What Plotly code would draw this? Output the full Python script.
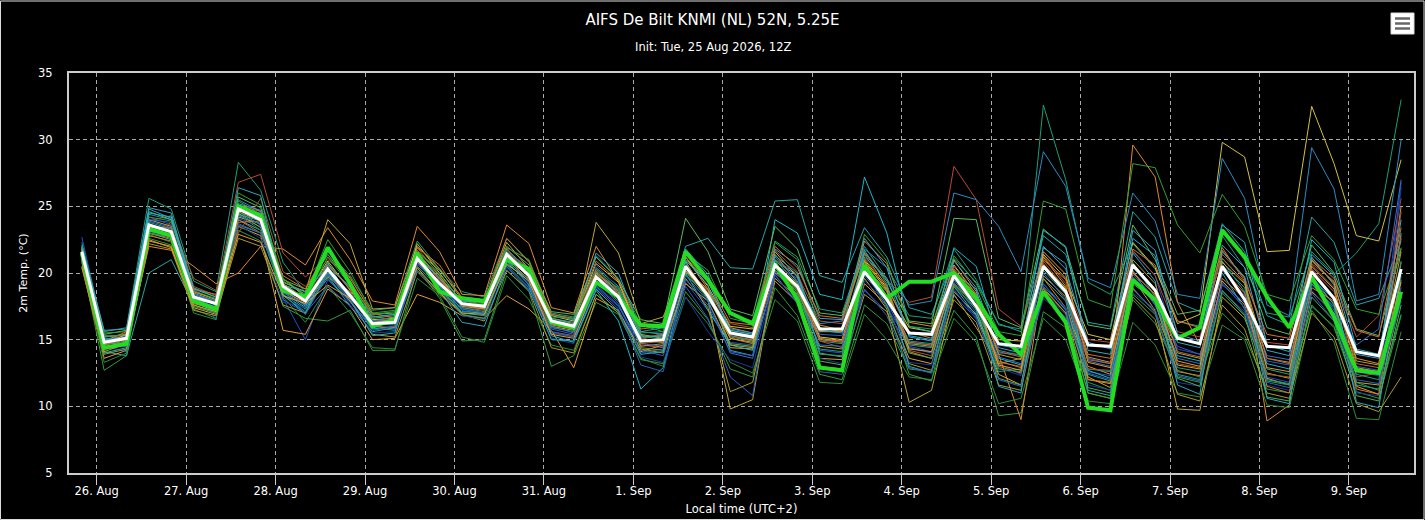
import pandas as pd
import plotly.graph_objects as go

# ---------------------------------------------------------------
# Data (2m temperature, degC), 6-hourly from 25 Aug 20:00 local
# ---------------------------------------------------------------
times = pd.date_range("2026-08-25 20:00", periods=60, freq="6h")

tick_dates = pd.date_range("2026-08-26", periods=15, freq="D")
tick_labels = ["26. Aug", "27. Aug", "28. Aug", "29. Aug", "30. Aug", "31. Aug", "1. Sep",
               "2. Sep", "3. Sep", "4. Sep", "5. Sep", "6. Sep", "7. Sep", "8. Sep", "9. Sep"]

ens_mean = [21.6,
            14.8, 15.1, 23.6, 23.1, 18.2, 17.7, 24.8, 24.0, 19.0, 17.9, 20.3, 18.3,
            16.2, 16.3, 21.1, 19.2, 17.7, 17.5, 21.4, 19.8, 16.4, 16.0, 19.7, 18.2,
            14.9, 15.0, 20.5, 18.3, 15.5, 15.2, 20.6, 19.0, 15.8, 15.8, 20.1, 18.0,
            15.5, 15.4, 19.8, 17.5, 14.7, 14.5, 20.5, 18.6, 14.6, 14.5, 20.6, 18.7,
            15.1, 14.7, 20.5, 18.0, 14.5, 14.4, 20.1, 18.1, 14.1, 13.8, 20.3]

control = [21.5,
           14.4, 14.7, 23.3, 22.8, 17.9, 17.3, 25.0, 24.3, 18.7, 18.2, 21.9, 19.2,
           16.0, 16.5, 21.5, 18.6, 18.1, 17.9, 21.0, 20.3, 16.3, 15.9, 19.3, 18.2,
           16.1, 16.0, 21.6, 19.5, 17.0, 16.2, 20.7, 18.0, 12.9, 12.7, 20.6, 18.1,
           19.35, 19.35, 20.0, 18.1, 15.4, 13.9, 18.6, 16.3, 9.9, 9.7, 19.5, 18.0,
           15.1, 15.9, 23.2, 21.2, 18.2, 15.9, 19.7, 16.7, 12.7, 12.5, 18.6]

m01 = [22.7,
       15.3, 15.0, 24.2, 23.6, 18.0, 17.2, 24.1, 23.5, 18.1, 15.0, 19.5, 17.8,
       16.0, 15.8, 20.6, 19.4, 17.2, 16.9, 20.8, 19.2, 15.5, 15.2, 19.1, 17.6,
       14.0, 14.3, 19.3, 17.2, 14.8, 14.6, 19.4, 17.8, 14.2, 14.0, 18.7, 17.1,
       14.5, 14.1, 18.3, 16.6, 13.2, 12.4, 18.1, 16.7, 12.6, 12.3, 21.6, 19.8,
       14.3, 13.9, 18.6, 17.1, 12.2, 11.8, 19.1, 17.5, 12.6, 12.3, 26.8]
m02 = [20.9,
       12.7, 13.8, 22.6, 22.1, 17.3, 16.6, 23.2, 22.4, 17.5, 16.6, 16.4, 17.2,
       14.2, 14.2, 20.4, 18.1, 14.9, 15.0, 20.2, 18.6, 13.0, 13.8, 17.8, 16.9,
       13.5, 13.2, 18.6, 16.5, 12.8, 12.2, 18.9, 16.8, 12.4, 12.0, 17.6, 16.2,
       12.8, 12.6, 17.2, 15.2, 9.3, 9.5, 17.1, 15.9, 11.8, 11.2, 18.0, 16.2,
       12.7, 12.2, 17.0, 15.3, 11.3, 11.0, 17.6, 15.9, 11.1, 10.6, 16.8]
m03 = [21.9,
       14.1, 13.8, 20.0, 21.0, 17.6, 17.0, 23.6, 23.0, 18.4, 17.3, 19.8, 17.5,
       15.6, 15.9, 20.8, 19.0, 17.0, 16.8, 20.9, 19.5, 16.9, 16.5, 20.4, 19.0,
       15.6, 15.9, 22.0, 22.6, 20.4, 20.3, 25.4, 25.5, 19.8, 19.3, 23.4, 21.2,
       17.4, 16.9, 21.1, 19.3, 16.2, 15.6, 22.8, 21.4, 16.3, 16.0, 24.6, 22.7,
       17.8, 17.1, 23.7, 21.6, 16.8, 16.1, 24.2, 22.3, 17.6, 18.1, 22.4]
m04 = [22.3,
       15.6, 15.9, 25.6, 24.8, 19.4, 18.6, 28.3, 26.2, 20.8, 18.5, 21.6, 19.8,
       17.2, 17.4, 22.4, 20.3, 18.6, 18.2, 22.6, 20.9, 17.0, 16.7, 21.3, 19.6,
       16.1, 15.6, 21.7, 19.5, 16.9, 16.4, 22.4, 21.2, 17.3, 17.0, 22.0, 19.6,
       16.8, 16.6, 21.8, 19.5, 16.1, 15.8, 32.6, 27.0, 19.3, 18.4, 22.2, 20.3,
       16.4, 16.0, 22.8, 20.4, 17.0, 16.7, 21.6, 19.9, 21.5, 23.7, 33.0]
m05 = [21.2,
       14.3, 14.6, 22.0, 21.7, 20.5, 19.2, 20.0, 22.0, 21.8, 20.6, 23.4, 21.0,
       17.9, 17.6, 23.5, 21.6, 18.4, 18.3, 23.6, 22.2, 17.4, 17.0, 22.0, 19.4,
       15.4, 15.1, 21.2, 18.8, 15.9, 15.5, 21.4, 19.3, 16.1, 15.7, 22.4, 20.7,
       16.3, 16.0, 21.0, 18.6, 13.9, 9.0, 19.6, 17.4, 13.0, 12.4, 29.6, 27.2,
       17.8, 14.6, 21.7, 19.6, 8.9, 10.1, 21.0, 19.2, 13.6, 13.2, 25.0]
m06 = [21.4,
       14.9, 15.5, 23.9, 24.3, 19.0, 18.3, 26.8, 27.4, 21.5, 19.7, 21.2, 19.4,
       16.7, 16.9, 21.9, 19.8, 17.4, 17.2, 21.6, 20.4, 16.6, 16.2, 20.3, 18.7,
       14.6, 14.4, 20.8, 18.4, 15.7, 15.4, 21.0, 19.9, 16.4, 16.2, 21.6, 19.5,
       17.8, 18.2, 28.0, 25.5, 17.3, 16.0, 21.3, 19.2, 15.0, 14.8, 21.7, 19.8,
       15.6, 15.2, 21.4, 19.7, 14.8, 14.6, 20.7, 19.4, 15.2, 16.8, 25.6]
m07 = [20.5,
       13.6, 14.2, 22.4, 22.0, 17.4, 16.9, 23.5, 22.8, 15.7, 15.4, 18.8, 17.6,
       15.0, 15.1, 18.4, 17.8, 16.8, 16.6, 18.3, 17.3, 15.7, 12.9, 18.1, 17.2,
       14.1, 14.6, 19.2, 17.9, 14.4, 14.3, 19.6, 18.2, 13.6, 13.5, 19.2, 17.6,
       13.6, 13.2, 18.6, 16.9, 12.4, 11.6, 19.8, 18.2, 12.2, 11.4, 18.8, 17.1,
       13.1, 12.8, 19.4, 17.6, 12.1, 11.6, 18.6, 17.0, 11.5, 10.9, 18.2]
m08 = [21.7,
       15.2, 15.4, 24.0, 23.5, 18.5, 17.9, 24.5, 23.4, 19.3, 18.6, 24.0, 22.2,
       17.3, 17.4, 22.0, 20.3, 18.0, 17.8, 22.3, 20.3, 16.0, 15.7, 23.8, 21.5,
       16.2, 16.7, 20.9, 18.0, 9.8, 10.5, 20.2, 18.4, 14.5, 14.3, 19.6, 17.3,
       10.3, 11.2, 18.4, 15.9, 13.2, 13.6, 21.2, 19.0, 12.0, 11.7, 19.6, 17.2,
       9.8, 9.7, 18.2, 16.6, 12.5, 12.1, 19.4, 17.7, 11.8, 11.6, 19.5]
m09 = [21.3,
       14.6, 15.2, 23.2, 22.9, 18.3, 17.6, 24.2, 23.7, 19.6, 18.2, 20.9, 18.7,
       16.5, 16.6, 22.2, 20.0, 17.8, 17.4, 21.8, 20.1, 16.8, 16.4, 20.7, 19.3,
       15.2, 15.3, 21.2, 19.0, 16.0, 15.8, 21.6, 19.7, 15.2, 15.0, 21.0, 18.9,
       15.9, 15.6, 20.6, 18.4, 15.0, 14.9, 21.4, 19.6, 15.4, 15.0, 22.3, 20.4,
       16.2, 16.9, 29.8, 28.7, 21.6, 21.7, 32.5, 28.2, 22.8, 22.4, 28.5]
m10 = [21.8,
       15.0, 15.3, 24.4, 24.0, 18.7, 18.0, 25.5, 24.6, 19.2, 18.0, 20.6, 18.9,
       16.4, 16.7, 21.3, 19.5, 17.6, 17.6, 21.2, 19.9, 16.2, 15.9, 19.9, 18.4,
       15.1, 15.4, 20.3, 18.5, 15.8, 15.5, 21.2, 19.4, 16.2, 16.4, 21.8, 20.4,
       17.6, 17.9, 26.0, 25.5, 23.5, 20.1, 29.1, 26.5, 19.6, 18.9, 26.0, 23.9,
       18.4, 18.1, 28.6, 25.6, 17.6, 16.8, 29.4, 26.3, 17.9, 18.4, 30.0]
m11 = [21.0,
       14.0, 14.4, 23.0, 22.5, 17.8, 17.1, 24.0, 23.2, 18.6, 17.4, 19.6, 17.9,
       15.8, 16.0, 20.9, 18.8, 17.1, 17.0, 20.9, 19.1, 15.3, 14.8, 18.7, 16.4,
       11.3, 12.9, 20.0, 17.2, 14.6, 14.2, 24.0, 23.0, 18.4, 18.0, 27.2, 23.0,
       16.0, 15.6, 19.0, 16.8, 13.6, 13.1, 19.2, 17.2, 12.7, 12.1, 20.2, 17.6,
       13.8, 13.4, 20.0, 17.3, 13.2, 12.8, 19.8, 17.6, 12.8, 12.5, 23.0]
m12 = [21.6,
       14.5, 14.1, 24.0, 23.8, 18.9, 16.5, 24.8, 24.5, 18.0, 17.0, 19.0, 17.5,
       16.1, 16.2, 20.7, 19.0, 17.5, 17.3, 21.5, 19.0, 15.8, 15.4, 19.5, 17.7,
       14.2, 13.8, 19.0, 16.6, 12.2, 10.8, 20.6, 19.6, 15.4, 15.3, 20.2, 17.4,
       14.8, 14.6, 19.3, 17.0, 14.0, 13.9, 19.0, 17.3, 13.6, 13.2, 19.7, 17.6,
       14.5, 13.9, 19.1, 17.8, 13.4, 13.1, 19.5, 17.2, 13.0, 12.7, 18.9]
m13 = [21.2,
       13.3, 14.0, 22.9, 22.3, 17.0, 16.5, 24.4, 23.2, 18.2, 16.3, 19.0, 17.0,
       14.4, 14.3, 19.6, 18.3, 15.2, 14.8, 19.8, 18.0, 14.6, 14.2, 18.4, 17.0,
       13.6, 13.0, 18.2, 16.2, 13.3, 12.5, 18.0, 16.4, 11.8, 11.7, 16.9, 15.0,
       12.2, 12.0, 16.6, 14.8, 10.2, 10.6, 16.6, 15.0, 10.4, 10.2, 16.3, 14.6,
       11.0, 10.7, 16.1, 15.0, 10.1, 9.9, 17.2, 14.8, 9.1, 9.0, 15.6]
m14 = [21.9,
       15.4, 15.7, 24.6, 24.0, 18.8, 18.2, 25.7, 24.9, 19.5, 18.8, 21.4, 19.2,
       16.9, 17.0, 21.6, 20.2, 18.2, 18.0, 22.0, 20.6, 17.1, 16.9, 21.2, 19.5,
       16.5, 16.2, 24.1, 21.6, 17.3, 16.8, 23.5, 21.8, 17.0, 16.8, 21.5, 19.4,
       16.4, 16.2, 24.1, 24.0, 16.6, 15.9, 23.3, 21.9, 16.1, 15.8, 23.6, 21.0,
       16.9, 17.2, 23.3, 21.0, 15.9, 15.4, 22.1, 20.0, 15.8, 15.3, 21.8]
m15 = [20.4,
       13.9, 14.3, 22.2, 21.8, 17.2, 16.8, 22.6, 22.0, 17.6, 17.0, 19.9, 17.9,
       15.4, 15.2, 20.1, 18.4, 16.9, 16.4, 20.2, 18.7, 14.4, 14.0, 18.4, 17.0,
       14.3, 14.0, 19.6, 17.4, 11.1, 11.8, 19.4, 17.8, 13.0, 12.8, 18.4, 17.1,
       13.2, 12.7, 18.0, 16.3, 11.6, 11.2, 18.9, 17.0, 11.0, 10.6, 18.2, 16.5,
       10.9, 10.4, 17.6, 15.8, 11.0, 10.6, 17.0, 15.2, 10.2, 9.6, 12.2]
m16 = [21.5,
       15.1, 15.0, 23.8, 23.3, 17.9, 17.5, 25.0, 24.2, 18.8, 17.6, 20.1, 18.2,
       15.9, 15.7, 20.9, 19.0, 17.3, 17.0, 21.0, 19.3, 15.9, 15.6, 19.3, 17.9,
       14.8, 14.9, 20.8, 18.1, 15.2, 14.9, 20.5, 18.7, 14.9, 14.7, 20.4, 18.3,
       14.6, 14.4, 19.5, 17.2, 12.6, 12.8, 20.4, 18.5, 12.8, 12.6, 20.8, 18.2,
       12.4, 12.0, 20.9, 18.6, 12.0, 11.7, 20.2, 18.0, 11.6, 11.3, 19.8]
m17 = [21.1,
       14.2, 14.9, 22.7, 23.8, 19.6, 18.7, 23.0, 25.6, 20.1, 19.0, 21.0, 19.7,
       16.8, 16.4, 21.7, 19.4, 17.9, 17.6, 21.9, 19.6, 15.6, 15.3, 20.0, 18.0,
       15.0, 15.5, 20.4, 18.6, 16.2, 15.9, 21.7, 20.1, 14.9, 14.4, 21.1, 19.1,
       14.2, 13.8, 20.2, 18.0, 13.3, 13.0, 20.9, 18.8, 12.8, 12.7, 20.7, 18.8,
       13.2, 12.9, 20.3, 18.5, 12.4, 12.2, 20.6, 18.9, 12.2, 12.5, 24.6]
m18 = [21.7,
       14.7, 15.1, 23.4, 22.9, 18.1, 17.5, 23.6, 22.6, 17.8, 17.4, 20.4, 17.6,
       15.5, 15.6, 20.5, 18.8, 16.8, 16.5, 20.4, 18.8, 15.1, 14.7, 20.6, 18.9,
       13.7, 13.3, 18.2, 15.6, 13.5, 12.9, 19.8, 17.8, 13.6, 13.2, 19.4, 17.8,
       13.3, 13.1, 18.8, 16.5, 12.9, 12.3, 19.2, 17.4, 11.6, 11.2, 18.5, 17.3,
       11.8, 11.5, 19.3, 17.4, 11.6, 11.2, 18.7, 16.8, 11.0, 10.8, 26.4]
m19 = [21.8,
       15.5, 15.6, 24.2, 23.9, 18.6, 18.1, 26.0, 25.1, 19.6, 18.3, 22.5, 20.1,
       17.0, 17.2, 21.7, 19.9, 17.9, 17.7, 21.9, 21.0, 16.5, 16.0, 19.9, 18.9,
       15.3, 15.0, 21.5, 20.2, 16.6, 16.2, 22.3, 21.0, 15.9, 15.6, 22.9, 20.9,
       16.0, 15.8, 21.3, 19.2, 15.6, 15.3, 25.4, 24.8, 18.0, 17.4, 28.2, 27.9,
       23.6, 21.5, 25.9, 23.5, 18.4, 17.9, 22.8, 21.0, 17.3, 16.9, 21.9]
m20 = [22.0,
       15.7, 15.8, 24.9, 24.5, 18.4, 17.8, 25.2, 24.7, 18.9, 17.5, 20.0, 18.1,
       16.3, 16.4, 21.5, 19.6, 17.7, 17.4, 21.3, 19.8, 16.6, 16.3, 21.5, 20.0,
       15.6, 15.4, 21.8, 19.9, 15.4, 15.1, 21.8, 20.6, 16.6, 16.5, 22.6, 20.4,
       15.2, 14.9, 20.9, 18.9, 14.4, 14.0, 22.0, 20.3, 14.8, 14.3, 23.2, 21.7,
       15.4, 14.9, 22.1, 20.4, 14.2, 13.8, 21.4, 19.8, 13.9, 13.6, 24.0]
m21 = [21.3,
       14.4, 14.8, 22.8, 22.4, 17.7, 17.3, 23.8, 23.9, 18.6, 17.8, 19.7, 18.6,
       16.0, 15.9, 21.3, 19.6, 17.6, 17.3, 21.1, 19.5, 16.1, 15.8, 20.1, 18.6,
       14.5, 14.7, 20.1, 18.8, 15.1, 14.7, 20.0, 18.6, 15.0, 14.8, 20.6, 18.6,
       14.1, 13.6, 19.2, 17.6, 13.4, 12.9, 18.8, 17.0, 12.0, 11.8, 19.4, 17.8,
       12.6, 12.3, 19.6, 18.1, 11.5, 11.0, 18.9, 17.9, 11.3, 10.9, 20.8]
m22 = [21.9,
       15.2, 15.4, 23.6, 23.3, 18.1, 17.4, 24.6, 23.6, 18.3, 17.1, 20.0, 18.4,
       16.2, 16.1, 20.2, 18.6, 17.4, 17.1, 20.6, 19.6, 16.3, 15.9, 19.6, 18.1,
       14.9, 14.8, 20.1, 18.0, 15.6, 15.3, 20.2, 18.9, 14.3, 14.1, 19.9, 18.2,
       14.9, 14.7, 19.9, 17.8, 14.2, 13.8, 20.2, 18.4, 12.4, 11.9, 20.4, 18.6,
       12.9, 12.6, 20.6, 18.9, 12.8, 12.4, 19.2, 17.4, 12.4, 12.0, 20.9]
m23 = [21.4,
       14.6, 14.9, 23.5, 23.0, 18.0, 17.7, 24.9, 24.4, 19.4, 18.4, 20.7, 18.9,
       16.6, 16.8, 21.0, 19.3, 17.7, 17.6, 21.6, 20.0, 16.6, 16.2, 19.6, 18.3,
       14.4, 14.2, 20.6, 18.4, 14.7, 14.5, 21.0, 19.2, 13.4, 13.1, 20.5, 18.6,
       14.0, 13.6, 19.0, 17.3, 12.1, 11.6, 19.6, 17.9, 11.4, 11.0, 19.2, 17.9,
       12.1, 11.5, 18.7, 16.9, 10.7, 10.4, 18.2, 16.4, 10.8, 10.4, 17.6]
m24 = [21.7,
       15.0, 15.2, 23.9, 23.4, 18.4, 17.9, 24.3, 23.7, 18.5, 17.7, 20.3, 18.5,
       16.4, 16.5, 21.1, 19.1, 17.8, 17.5, 21.7, 20.3, 16.0, 15.5, 19.0, 17.5,
       14.7, 14.5, 19.8, 17.9, 14.0, 13.6, 20.1, 18.3, 14.6, 14.5, 19.8, 17.9,
       14.4, 14.0, 19.6, 17.4, 13.7, 13.2, 20.0, 18.0, 13.4, 13.0, 19.9, 18.1,
       13.6, 13.2, 20.2, 18.3, 13.8, 13.5, 19.6, 18.0, 14.6, 15.8, 27.0]
m25 = [21.0,
       14.9, 15.6, 23.0, 22.6, 18.8, 18.4, 24.0, 23.0, 19.8, 18.8, 21.8, 19.6,
       17.0, 16.6, 21.9, 20.6, 18.1, 17.8, 22.6, 20.8, 16.9, 16.6, 20.9, 19.4,
       15.8, 16.0, 21.2, 19.3, 16.3, 16.1, 22.0, 20.4, 16.8, 16.6, 21.4, 19.0,
       15.6, 15.1, 19.7, 17.9, 13.0, 12.5, 21.0, 19.5, 13.9, 13.6, 21.8, 20.6,
       16.4, 15.9, 21.9, 19.4, 15.4, 15.1, 21.1, 19.6, 15.7, 15.2, 23.4]
m26 = [22.1,
       14.8, 14.6, 24.8, 24.1, 18.3, 17.6, 26.4, 25.8, 18.4, 16.9, 20.8, 18.0,
       15.3, 15.5, 21.0, 18.7, 16.3, 16.0, 20.6, 18.9, 15.0, 14.9, 18.8, 17.1,
       13.9, 14.1, 21.0, 19.1, 14.2, 13.8, 21.3, 20.0, 14.0, 13.7, 21.7, 19.2,
       13.0, 12.5, 20.0, 18.8, 11.5, 11.0, 21.9, 20.7, 11.2, 10.8, 21.5, 19.4,
       11.6, 10.9, 21.6, 19.7, 10.6, 10.2, 21.2, 19.1, 10.3, 9.9, 20.2]
m27 = [21.6,
       15.3, 15.3, 23.0, 22.7, 17.5, 17.0, 25.4, 24.4, 18.9, 17.9, 21.2, 19.1,
       16.9, 17.1, 20.5, 18.9, 16.9, 16.6, 20.9, 19.9, 16.7, 16.6, 20.3, 18.8,
       15.5, 15.6, 19.9, 18.2, 15.3, 14.9, 20.8, 18.5, 13.9, 13.8, 20.3, 17.6,
       12.4, 11.9, 19.1, 17.6, 12.8, 12.6, 18.3, 16.6, 11.0, 10.6, 18.4, 16.9,
       12.2, 11.8, 18.5, 16.8, 11.9, 11.6, 17.5, 16.0, 11.8, 11.2, 16.9]
m28 = [21.2,
       14.4, 14.5, 23.1, 22.8, 17.8, 17.4, 23.7, 23.0, 18.7, 16.9, 19.9, 18.0,
       15.7, 16.0, 20.2, 18.5, 17.3, 17.0, 20.5, 18.7, 15.6, 15.2, 18.9, 17.3,
       13.1, 12.6, 19.5, 17.6, 14.1, 13.8, 19.9, 17.7, 12.6, 12.4, 18.8, 16.8,
       12.9, 12.5, 18.7, 16.7, 12.0, 11.5, 18.6, 16.9, 12.5, 12.0, 18.9, 17.0,
       12.3, 11.9, 19.2, 17.4, 11.8, 11.4, 18.5, 16.4, 12.0, 11.7, 17.9]
m29 = [21.8,
       14.7, 15.4, 22.5, 21.9, 17.6, 17.1, 22.9, 22.3, 18.3, 17.7, 19.1, 18.1,
       16.3, 16.5, 20.4, 18.5, 17.0, 16.9, 20.7, 19.4, 15.4, 15.1, 19.2, 18.3,
       14.9, 15.0, 20.2, 18.2, 15.1, 14.8, 20.4, 18.8, 15.6, 15.6, 20.9, 18.7,
       14.3, 14.1, 19.8, 18.2, 13.1, 12.7, 21.6, 19.9, 13.3, 12.9, 20.0, 18.4,
       13.4, 13.0, 20.8, 19.2, 12.9, 12.6, 20.5, 18.8, 12.9, 12.6, 19.3]
m30 = [21.3,
       15.0, 15.1, 24.5, 24.2, 18.9, 18.2, 24.4, 23.9, 19.1, 18.6, 20.5, 19.0,
       16.7, 16.9, 21.2, 19.7, 17.9, 17.8, 21.4, 19.9, 16.5, 16.1, 20.1, 18.6,
       15.3, 15.2, 20.9, 19.4, 15.7, 15.4, 20.9, 19.8, 15.7, 15.5, 21.2, 19.6,
       15.3, 15.0, 21.9, 20.5, 14.6, 14.3, 23.2, 22.0, 14.2, 13.9, 22.6, 21.3,
       14.8, 14.4, 23.6, 22.3, 14.6, 14.1, 22.5, 20.8, 14.3, 13.9, 22.6]
m31 = [20.8,
       14.1, 14.7, 23.7, 23.0, 18.6, 18.0, 24.6, 23.9, 19.2, 18.1, 20.2, 18.4,
       16.1, 16.3, 21.4, 19.8, 17.5, 17.3, 21.2, 19.7, 16.4, 16.1, 20.0, 18.5,
       15.0, 14.8, 20.4, 18.7, 14.6, 14.4, 20.7, 19.1, 15.1, 14.9, 20.8, 18.8,
       14.7, 14.5, 20.3, 18.3, 13.9, 13.5, 20.6, 18.9, 13.7, 13.3, 21.0, 19.2,
       14.0, 13.6, 21.1, 19.3, 13.6, 13.3, 20.9, 19.3, 13.4, 13.1, 21.6]
m32 = [21.5,
       14.6, 15.0, 23.4, 23.4, 18.2, 17.8, 25.1, 24.6, 19.0, 18.0, 20.6, 18.8,
       16.3, 16.4, 20.8, 19.3, 17.6, 17.4, 21.5, 19.7, 16.2, 15.9, 20.2, 18.4,
       14.7, 14.9, 20.6, 18.5, 15.3, 15.0, 20.5, 18.9, 15.0, 14.9, 20.1, 18.1,
       14.8, 14.6, 20.5, 18.4, 14.1, 13.7, 20.7, 18.7, 13.5, 13.2, 20.1, 18.3,
       14.1, 13.7, 20.3, 18.5, 13.6, 13.2, 20.3, 18.6, 13.2, 12.9, 22.8]

members = [m01, m02, m03, m04, m05, m06, m07, m08, m09, m10, m11, m12, m13, m14, m15, m16,
           m17, m18, m19, m20, m21, m22, m23, m24, m25, m26, m27, m28, m29, m30, m31, m32]

member_colors = ["#2350c8", "#2f9a3c", "#22a5a5", "#1b9e77", "#e08a2c", "#b84a30",
                 "#e0a030", "#bca62c", "#d2c23a", "#2b8cc4", "#18b8c8", "#2d5fcf",
                 "#2e8b3a", "#5cb85c", "#a89a28", "#1f9c8c", "#a0582a", "#1a3a9c",
                 "#33a02c", "#3aa0d0", "#d9782a", "#20a08a", "#4caf50", "#2f6fd0",
                 "#d4702a", "#2aa8b8", "#2f9e44", "#2e62b8", "#e39b2a", "#1fb0c0",
                 "#b0a030", "#c0603a"]

FONT = "DejaVu Sans"

# ---------------------------------------------------------------
# Plot
# ---------------------------------------------------------------
fig = go.Figure()

for vals, col in zip(members, member_colors):
    fig.add_trace(go.Scatter(x=times, y=vals, mode="lines", line=dict(color=col, width=1),
                             showlegend=False, hoverinfo="skip"))

# control run (thick green) and ensemble mean (white) on top
fig.add_trace(go.Scatter(x=times, y=control, mode="lines", line=dict(color="#22dd22", width=4),
                         showlegend=False, hoverinfo="skip"))
fig.add_trace(go.Scatter(x=times, y=ens_mean, mode="lines", line=dict(color="#ffffff", width=3),
                         showlegend=False, hoverinfo="skip"))

fig.update_layout(
    width=1425, height=520,
    paper_bgcolor="#000000", plot_bgcolor="#000000",
    margin=dict(l=69, r=11, t=73, b=47),
    font=dict(family=FONT, color="#ffffff", size=11),
    title=dict(text="AIFS De Bilt KNMI (NL) 52N, 5.25E", x=0.5, xref="container", xanchor="center",
               y=1 - 20 / 520, yref="container", yanchor="middle",
               font=dict(family=FONT, size=15, color="#ffffff")),
    annotations=[dict(text="Init: Tue, 25 Aug 2026, 12Z", xref="paper", yref="paper",
                      x=(712.5 - 69) / 1345, y=(473 - 47) / 400, xanchor="center", yanchor="middle",
                      showarrow=False, font=dict(family=FONT, size=11.5, color="#ffffff"))],
)

fig.update_xaxes(
    range=["2026-08-25 16:34", "2026-09-09 17:27"],
    tickvals=tick_dates, ticktext=tick_labels,
    ticks="outside", ticklen=10, tickcolor="#cccccc", tickwidth=1,
    showline=True, linecolor="#cccccc", linewidth=2, mirror=True,
    showgrid=True, gridcolor="#aaaaaa", gridwidth=1, griddash="4px,3px",
    zeroline=False, automargin=False, ticklabelstandoff=-4,
    tickfont=dict(family=FONT, size=11.5, color="#ffffff"),
    title=dict(text="Local time (UTC+2)", font=dict(family=FONT, size=11.5, color="#ffffff"), standoff=8),
)
fig.update_yaxes(
    range=[5, 35], dtick=5, tick0=5,
    showline=True, linecolor="#cccccc", linewidth=2, mirror=True,
    showgrid=True, gridcolor="#aaaaaa", gridwidth=1, griddash="4px,3px",
    zeroline=False, automargin=False, ticks="", ticklabelstandoff=12,
    tickfont=dict(family=FONT, size=11.5, color="#ffffff"),
    title=dict(text="2m Temp. (°C)", font=dict(family=FONT, size=11, color="#ffffff"), standoff=8),
)

# outer frame of the chart container
fig.add_shape(type="rect", xref="paper", yref="paper",
              x0=-68.5 / 1345, x1=(1424 - 69) / 1345, y0=-46.5 / 400, y1=1 + 72 / 400,
              line=dict(color="#dddddd", width=1), layer="above")

# export menu button (top right)
fig.add_shape(type="rect", xref="paper", yref="paper",
              x0=(1391 - 69) / 1345, x1=(1414 - 69) / 1345, y0=(473 - 34) / 400, y1=(473 - 13) / 400,
              fillcolor="#ffffff", line=dict(color="#dddddd", width=1), layer="above")
for py in (18.5, 23.5, 28.5):
    fig.add_shape(type="line", xref="paper", yref="paper",
                  x0=(1395 - 69) / 1345, x1=(1410 - 69) / 1345, y0=(473 - py) / 400, y1=(473 - py) / 400,
                  line=dict(color="#666666", width=2.5), layer="above")

fig.write_html("out.html", config={"displayModeBar": False},
               post_script="document.body.style.margin='0px';")
